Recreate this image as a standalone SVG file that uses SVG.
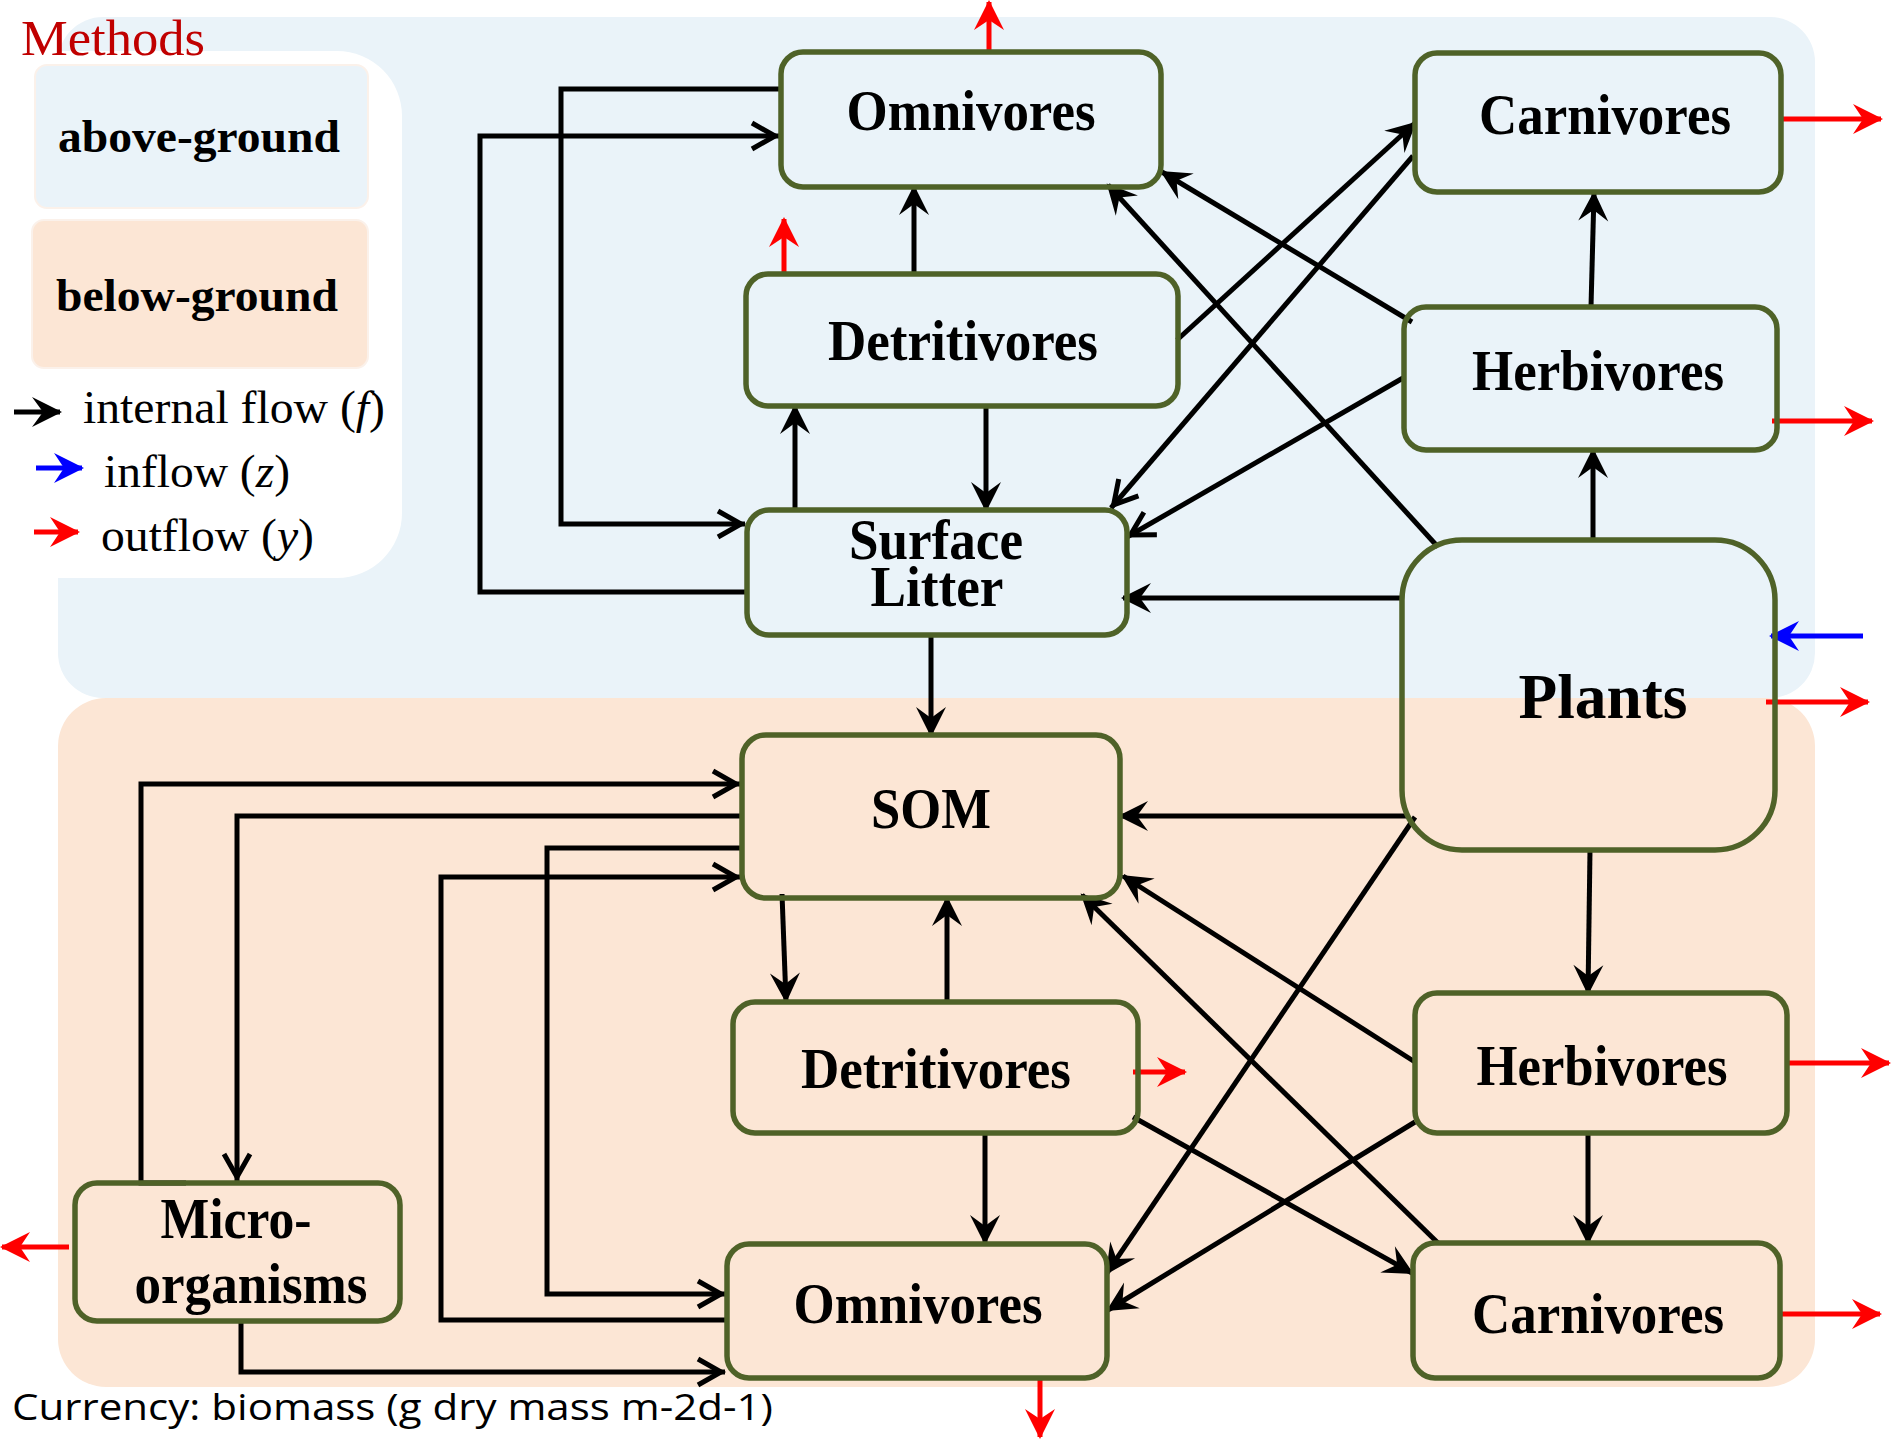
<svg xmlns="http://www.w3.org/2000/svg" width="1895" height="1440" viewBox="0 0 1895 1440">
<style>
.node{stroke:#4F6228;stroke-width:5.5}
.lbl{font-family:"Liberation Serif","Times New Roman",serif;font-weight:bold;font-size:56px;fill:#000;text-anchor:middle}
.leg{font-family:"Liberation Serif","Times New Roman",serif;font-size:47px;fill:#000}
.c{fill:none;stroke:#000;stroke-width:5}
.r{fill:none;stroke:#FF0000;stroke-width:5}
.b{fill:none;stroke:#0000FF;stroke-width:5}
</style>
<defs>
<marker id="st" markerUnits="userSpaceOnUse" orient="auto" overflow="visible" markerWidth="1" markerHeight="1"><path d="M2,0 L-28,-15 L-17,0 L-28,15 Z" fill="#000"/></marker>
<marker id="ch" markerUnits="userSpaceOnUse" orient="auto" overflow="visible" markerWidth="1" markerHeight="1"><path d="M-27,-13 L-4,0 L-27,13" fill="none" stroke="#000" stroke-width="5"/></marker>
<marker id="sr" markerUnits="userSpaceOnUse" orient="auto" overflow="visible" markerWidth="1" markerHeight="1"><path d="M2,0 L-28,-15 L-18,0 L-28,15 Z" fill="#FF0000"/></marker>
<marker id="sb" markerUnits="userSpaceOnUse" orient="auto" overflow="visible" markerWidth="1" markerHeight="1"><path d="M2,0 L-28,-15 L-18,0 L-28,15 Z" fill="#0000FF"/></marker>
</defs>
<rect width="1895" height="1440" fill="#FFFFFF"/>
<g id="regions">
<rect x="58" y="17" width="1757" height="681" rx="45" fill="#EAF3F9"/>
<rect x="58" y="698" width="1757" height="689" rx="48" fill="#FCE6D5"/>
</g>
<g id="legend">
<rect x="-40" y="51" width="442" height="527" rx="65" fill="#FFFFFF"/>
<text x="21" y="55" font-family="Liberation Serif, Times New Roman, serif" font-size="50" fill="#C00000" textLength="184" lengthAdjust="spacingAndGlyphs">Methods</text>
<rect x="35" y="65" width="333" height="143" rx="12" fill="#EAF3F9" stroke="#FBF1EA" stroke-width="2"/>
<text x="199" y="152" class="lbl" textLength="282" lengthAdjust="spacingAndGlyphs" style="font-size:47px">above-ground</text>
<rect x="32" y="220" width="336" height="148" rx="12" fill="#FCE6D5" stroke="#FBF1EA" stroke-width="2"/>
<text x="197" y="311" class="lbl" textLength="282" lengthAdjust="spacingAndGlyphs" style="font-size:47px">below-ground</text>
<path class="c" d="M14,412 H60" marker-end="url(#st)"/>
<text x="83" y="423" class="leg" textLength="302" lengthAdjust="spacingAndGlyphs">internal flow (<tspan font-style="italic">f</tspan>)</text>
<path class="b" d="M36,468 H82" marker-end="url(#sb)"/>
<text x="104" y="487" class="leg" textLength="186" lengthAdjust="spacingAndGlyphs">inflow (<tspan font-style="italic">z</tspan>)</text>
<path class="r" d="M34,532 H78" marker-end="url(#sr)"/>
<text x="101" y="551" class="leg" textLength="213" lengthAdjust="spacingAndGlyphs">outflow (<tspan font-style="italic">y</tspan>)</text>
</g>
<g id="connectors">
<path class="c" d="M781,89 H561 V524 H745" marker-end="url(#ch)"/>
<path class="c" d="M747,592 H480 V136 H779" marker-end="url(#ch)"/>
<path class="c" d="M914,274 V187" marker-end="url(#st)"/>
<path class="c" d="M795,510 V406" marker-end="url(#st)"/>
<path class="c" d="M986,406 V510" marker-end="url(#st)"/>
<path class="c" d="M1177,340 L1415,123" marker-end="url(#st)"/>
<path class="c" d="M1413,156 L1111,508" marker-end="url(#ch)"/>
<path class="c" d="M1412,322 L1162,172" marker-end="url(#st)"/>
<path class="c" d="M1403,378 L1127,537" marker-end="url(#ch)"/>
<path class="c" d="M1438,547 L1108,185" marker-end="url(#st)"/>
<path class="c" d="M1593,540 V450" marker-end="url(#st)"/>
<path class="c" d="M1591,307 L1594,193" marker-end="url(#st)"/>
<path class="c" d="M1402,598 H1123" marker-end="url(#st)"/>
<path class="c" d="M931,635 V735" marker-end="url(#st)"/>
<path class="c" d="M1407,816 H1120" marker-end="url(#st)"/>
<path class="c" d="M1415,817 L1107,1273" marker-end="url(#st)"/>
<path class="c" d="M1590,850 L1588,993" marker-end="url(#st)"/>
<path class="c" d="M186,1183 H141 V784 H740" marker-end="url(#ch)"/>
<path class="c" d="M742,816 H237 V1181" marker-end="url(#ch)"/>
<path class="c" d="M742,848 H547 V1294 H725" marker-end="url(#ch)"/>
<path class="c" d="M727,1320 H441 V877 H740" marker-end="url(#ch)"/>
<path class="c" d="M241,1321 V1372 H725" marker-end="url(#ch)"/>
<path class="c" d="M782,894 L786,1001" marker-end="url(#st)"/>
<path class="c" d="M947,1002 V898" marker-end="url(#st)"/>
<path class="c" d="M985,1133 V1243" marker-end="url(#st)"/>
<path class="c" d="M1133,1117 L1412,1273" marker-end="url(#st)"/>
<path class="c" d="M1415,1062 L1123,876" marker-end="url(#st)"/>
<path class="c" d="M1438,1243 L1082,895" marker-end="url(#st)"/>
<path class="c" d="M1415,1122 L1108,1310" marker-end="url(#st)"/>
<path class="c" d="M1588,1133 V1243" marker-end="url(#st)"/>
<path class="r" d="M989,52 V2" marker-end="url(#sr)"/>
<path class="r" d="M784,272 V219" marker-end="url(#sr)"/>
<path class="r" d="M1781,119 H1881" marker-end="url(#sr)"/>
<path class="r" d="M1772,421 H1872" marker-end="url(#sr)"/>
<path class="b" d="M1863,636 H1771" marker-end="url(#sb)"/>
<path class="r" d="M1766,702 H1868" marker-end="url(#sr)"/>
<path class="r" d="M1133,1072 H1185" marker-end="url(#sr)"/>
<path class="r" d="M1787,1063 H1889" marker-end="url(#sr)"/>
<path class="r" d="M1780,1314 H1880" marker-end="url(#sr)"/>
<path class="r" d="M1040,1378 V1437" marker-end="url(#sr)"/>
<path class="r" d="M69,1247 H2" marker-end="url(#sr)"/>
</g>
<g id="omnivores-above">
<rect class="node" x="781" y="52" width="380" height="135" rx="22" fill="none"/>
<text class="lbl" x="971" y="130" textLength="249" lengthAdjust="spacingAndGlyphs">Omnivores</text>
</g>
<g id="detritivores-above">
<rect class="node" x="746" y="274" width="432" height="132" rx="22" fill="none"/>
<text class="lbl" x="963" y="360" textLength="270" lengthAdjust="spacingAndGlyphs">Detritivores</text>
</g>
<g id="carnivores-above">
<rect class="node" x="1415" y="53" width="366" height="139" rx="22" fill="none"/>
<text class="lbl" x="1605" y="134" textLength="252" lengthAdjust="spacingAndGlyphs">Carnivores</text>
</g>
<g id="herbivores-above">
<rect class="node" x="1404" y="307" width="373" height="143" rx="22" fill="none"/>
<text class="lbl" x="1598" y="390" textLength="252" lengthAdjust="spacingAndGlyphs">Herbivores</text>
</g>
<g id="plants">
<rect class="node" x="1402" y="540" width="373" height="310" rx="60" fill="none"/>
<text class="lbl" x="1603" y="718" textLength="169" lengthAdjust="spacingAndGlyphs" style="font-size:64px">Plants</text>
</g>
<g id="surface-litter">
<rect class="node" x="747" y="510" width="380" height="125" rx="22" fill="none"/>
<text class="lbl" x="936" y="559" textLength="174" lengthAdjust="spacingAndGlyphs">Surface</text>
<text class="lbl" x="937" y="606" textLength="133" lengthAdjust="spacingAndGlyphs">Litter</text>
</g>
<g id="som">
<rect class="node" x="742" y="735" width="378" height="163" rx="24" fill="none"/>
<text class="lbl" x="931" y="828" textLength="120" lengthAdjust="spacingAndGlyphs">SOM</text>
</g>
<g id="detritivores-below">
<rect class="node" x="733" y="1002" width="405" height="131" rx="22" fill="none"/>
<text class="lbl" x="936" y="1088" textLength="270" lengthAdjust="spacingAndGlyphs">Detritivores</text>
</g>
<g id="omnivores-below">
<rect class="node" x="727" y="1244" width="380" height="134" rx="22" fill="none"/>
<text class="lbl" x="918" y="1323" textLength="249" lengthAdjust="spacingAndGlyphs">Omnivores</text>
</g>
<g id="herbivores-below">
<rect class="node" x="1415" y="993" width="372" height="140" rx="22" fill="none"/>
<text class="lbl" x="1602" y="1085" textLength="251" lengthAdjust="spacingAndGlyphs">Herbivores</text>
</g>
<g id="carnivores-below">
<rect class="node" x="1413" y="1243" width="367" height="135" rx="22" fill="none"/>
<text class="lbl" x="1598" y="1333" textLength="252" lengthAdjust="spacingAndGlyphs">Carnivores</text>
</g>
<g id="microorganisms">
<rect class="node" x="75" y="1183" width="325" height="138" rx="22" fill="none"/>
<text class="lbl" x="236" y="1238" textLength="151" lengthAdjust="spacingAndGlyphs">Micro-</text>
<text class="lbl" x="251" y="1303" textLength="233" lengthAdjust="spacingAndGlyphs">organisms</text>
</g>
<text x="12" y="1420" font-family="Open Sans, Liberation Sans, sans-serif" font-size="37" fill="#000" textLength="761" lengthAdjust="spacingAndGlyphs">Currency: biomass (g dry mass m-2d-1)</text>
</svg>
